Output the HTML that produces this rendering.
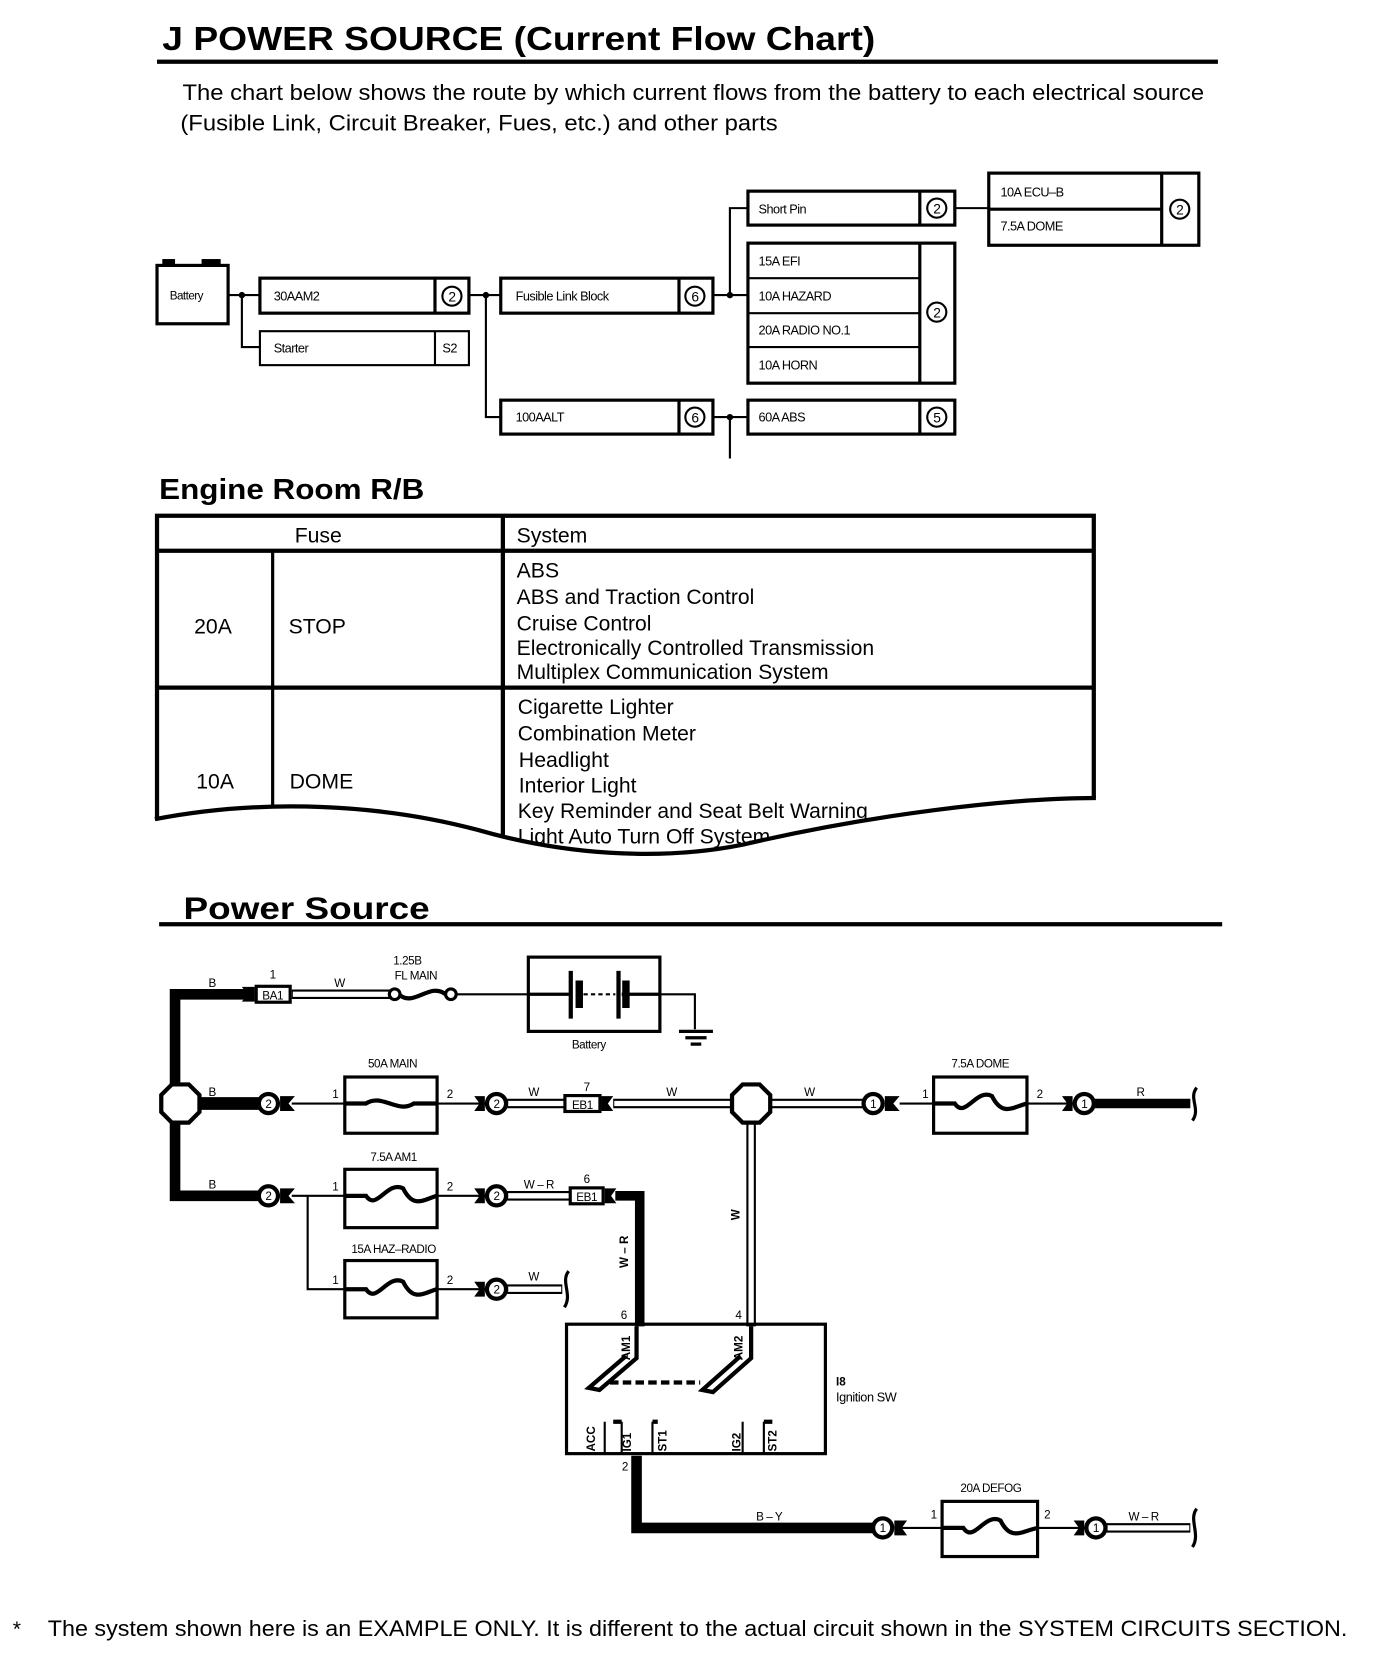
<!DOCTYPE html>
<html><head><meta charset="utf-8">
<style>
html,body{margin:0;padding:0;background:#fff;}
svg{display:block;}
text{font-family:"Liberation Sans",Arial,sans-serif;fill:#000;}
</style></head>
<body>
<svg width="1376" height="1666" viewBox="0 0 1297 1570" xmlns="http://www.w3.org/2000/svg">
<rect width="1297" height="1570" fill="#fff"/>
<!-- Title -->
<text x="153" y="47" font-size="31" font-weight="bold" textLength="672" lengthAdjust="spacingAndGlyphs">J POWER SOURCE (Current Flow Chart)</text>
<rect x="148" y="56" width="1000" height="4" fill="#000"/>
<text x="172" y="94" font-size="21" textLength="963" lengthAdjust="spacingAndGlyphs">The chart below shows the route by which current flows from the battery to each electrical source</text>
<text x="170" y="123" font-size="21" textLength="563" lengthAdjust="spacingAndGlyphs">(Fusible Link, Circuit Breaker, Fues, etc.) and other parts</text>

<!-- Flow chart -->
<g fill="none" stroke="#000">
 <rect x="148" y="250" width="67" height="55" stroke-width="3"/>
 <rect x="153" y="244" width="12" height="6" fill="#000" stroke="none"/>
 <rect x="190" y="244" width="18" height="6" fill="#000" stroke="none"/>
 <path d="M215 278H245M228 278V327H245M442 278H472M458 278V393H472M672 278H705M688 278V196H705M900 196H932M672 393H705M688 393V432" stroke-width="2"/>
 <rect x="245" y="262" width="197" height="33" stroke-width="3"/>
 <line x1="410" y1="262" x2="410" y2="295" stroke-width="3"/>
 <rect x="245" y="312" width="197" height="32" stroke-width="2"/>
 <line x1="410" y1="312" x2="410" y2="344" stroke-width="2"/>
 <rect x="472" y="262" width="200" height="33" stroke-width="3"/>
 <line x1="640" y1="262" x2="640" y2="295" stroke-width="3"/>
 <rect x="472" y="377" width="200" height="32" stroke-width="3"/>
 <line x1="640" y1="377" x2="640" y2="409" stroke-width="3"/>
 <rect x="705" y="180" width="195" height="32" stroke-width="3"/>
 <line x1="867" y1="180" x2="867" y2="212" stroke-width="3"/>
 <rect x="932" y="163" width="198" height="68" stroke-width="3"/>
 <line x1="1095" y1="163" x2="1095" y2="231" stroke-width="3"/>
 <line x1="932" y1="197" x2="1095" y2="197" stroke-width="3"/>
 <rect x="705" y="229" width="195" height="132" stroke-width="3"/>
 <line x1="867" y1="229" x2="867" y2="361" stroke-width="3"/>
 <path d="M705 262H867M705 295H867M705 327H867" stroke-width="2"/>
 <rect x="705" y="377" width="195" height="32" stroke-width="3"/>
 <line x1="867" y1="377" x2="867" y2="409" stroke-width="3"/>
 <g stroke-width="2">
  <circle cx="426" cy="279" r="9"/><circle cx="655" cy="279" r="9"/><circle cx="655" cy="393" r="9"/>
  <circle cx="883" cy="196" r="9"/><circle cx="1112" cy="197" r="9"/><circle cx="883" cy="294" r="9"/><circle cx="883" cy="393" r="9"/>
 </g>
</g>
<g fill="#000"><circle cx="228" cy="278" r="3"/><circle cx="458" cy="278" r="3"/><circle cx="688" cy="278" r="3"/><circle cx="688" cy="393" r="3"/></g>
<g font-size="12" letter-spacing="-0.5">
 <text x="160" y="282" font-size="11">Battery</text>
 <text x="258" y="283">30AAM2</text>
 <text x="258" y="332">Starter</text>
 <text x="417" y="332">S2</text>
 <text x="486" y="283">Fusible Link Block</text>
 <text x="486" y="397">100AALT</text>
 <text x="715" y="201">Short Pin</text>
 <text x="943" y="185">10A ECU–B</text>
 <text x="943" y="217">7.5A DOME</text>
 <text x="715" y="250">15A EFI</text>
 <text x="715" y="283">10A HAZARD</text>
 <text x="715" y="315">20A RADIO NO.1</text>
 <text x="715" y="348">10A HORN</text>
 <text x="715" y="397">60A ABS</text>
 <g text-anchor="middle" font-size="13">
  <text x="426" y="284">2</text><text x="655" y="284">6</text><text x="655" y="398">6</text>
  <text x="883" y="201">2</text><text x="1112" y="202">2</text><text x="883" y="299">2</text><text x="883" y="398">5</text>
 </g>
</g>

<!-- Engine Room R/B -->
<text x="150" y="470" font-size="27" font-weight="bold" textLength="250" lengthAdjust="spacingAndGlyphs">Engine Room R/B</text>
<g fill="none" stroke="#000">
 <path d="M148 772V486H1031V752" stroke-width="4"/>
 <line x1="148" y1="519" x2="1031" y2="519" stroke-width="4"/>
 <line x1="148" y1="648" x2="1031" y2="648" stroke-width="4"/>
 <line x1="474" y1="486" x2="474" y2="830" stroke-width="4"/>
 <line x1="257" y1="519" x2="257" y2="770" stroke-width="3"/>
</g>
<g font-size="20" lengthAdjust="spacingAndGlyphs">
 <text x="300" y="511" text-anchor="middle">Fuse</text>
 <text x="487" y="511">System</text>
 <text x="183" y="597">20A</text><text x="272" y="597">STOP</text>
 <text x="487" y="544">ABS</text>
 <text x="487" y="569" textLength="224" lengthAdjust="spacingAndGlyphs">ABS and Traction Control</text>
 <text x="487" y="594" textLength="127" lengthAdjust="spacingAndGlyphs">Cruise Control</text>
 <text x="487" y="617" textLength="337" lengthAdjust="spacingAndGlyphs">Electronically Controlled Transmission</text>
 <text x="487" y="640" textLength="294" lengthAdjust="spacingAndGlyphs">Multiplex Communication System</text>
 <text x="185" y="743">10A</text><text x="273" y="743">DOME</text>
 <text x="488" y="673" textLength="147" lengthAdjust="spacingAndGlyphs">Cigarette Lighter</text>
 <text x="488" y="698" textLength="168" lengthAdjust="spacingAndGlyphs">Combination Meter</text>
 <text x="489" y="723" textLength="85" lengthAdjust="spacingAndGlyphs">Headlight</text>
 <text x="489" y="747" textLength="111" lengthAdjust="spacingAndGlyphs">Interior Light</text>
 <text x="488" y="771" textLength="330" lengthAdjust="spacingAndGlyphs">Key Reminder and Seat Belt Warning</text>
 <text x="488" y="795" textLength="238" lengthAdjust="spacingAndGlyphs">Light Auto Turn Off System</text>
 <text x="488" y="818" textLength="290" lengthAdjust="spacingAndGlyphs">Theft Deterrent and Door Lock</text>
</g>
<path d="M146 772C250 752 360 758 450 782C530 805 620 812 700 796C820 768 950 752 1033 752V840H146Z" fill="#fff"/>
<path d="M146 772C250 752 360 758 450 782C530 805 620 812 700 796C820 768 950 752 1033 752" fill="none" stroke="#000" stroke-width="4"/>

<!-- Power Source -->
<text x="173" y="866" font-size="30" font-weight="bold" textLength="232" lengthAdjust="spacingAndGlyphs">Power Source</text>
<rect x="150" y="869" width="1002" height="4" fill="#000"/>

<g fill="none" stroke="#000">
 <path d="M240 937H165V1127H250" stroke-width="10"/>
 <path d="M170 1040H250" stroke-width="12"/>
 <path d="M580 1127H603V1250" stroke-width="9"/>
 <path d="M600 1372V1440H825" stroke-width="10"/>
 <path d="M1030 1040H1122" stroke-width="9"/>
 <path d="M275 1040H325M412 1040H458M275 1127H325M412 1127H458M290 1127V1215H325M412 1215H458M848 1040H880M968 1040H1012M848 1440H888M978 1440H1023M428 937H498M622 937H655V970" stroke-width="2"/>
 <g stroke-width="9">
  <path d="M275 937H370M478 1040H540M578 1040H690M726 1040H815M708 1058V1250M478 1127H540M478 1215H530M1043 1440H1122"/>
 </g>
 <g stroke="#fff" stroke-width="5">
  <path d="M276 937H369M479 1040H539M579 1040H689M727 1040H814M708 1059V1249M479 1127H539M479 1215H529M1044 1440H1121"/>
 </g>
 <polygon points="162,1022 178,1022 188,1032 188,1048 178,1058 162,1058 152,1048 152,1032" fill="#fff" stroke-width="4"/>
 <polygon points="700,1022 716,1022 726,1032 726,1048 716,1058 700,1058 690,1048 690,1032" fill="#fff" stroke-width="4"/>
 <g stroke-width="3">
  <rect x="325" y="1015" width="87" height="53"/>
  <rect x="325" y="1102" width="87" height="55"/>
  <rect x="325" y="1188" width="87" height="54"/>
  <rect x="880" y="1015" width="88" height="53"/>
  <rect x="888" y="1415" width="90" height="52"/>
  <rect x="498" y="902" width="124" height="70"/>
  <rect x="534" y="1248" width="244" height="122"/>
 </g>
 <g stroke-width="4">
  <path d="M325 1040H345C360 1030 375 1050 390 1040H412"/>
  <path d="M325 1127H345C355 1142 365 1112 380 1120C390 1140 400 1130 412 1127"/>
  <path d="M325 1215H345C355 1230 365 1200 380 1208C390 1228 400 1218 412 1215"/>
  <path d="M880 1040H900C910 1055 920 1025 935 1033C945 1053 955 1043 968 1040"/>
  <path d="M888 1440H908C918 1455 928 1425 943 1433C953 1453 963 1443 978 1440"/>
  <path d="M376 937C390 950 405 925 420 937"/>
 </g>
 <circle cx="372" cy="937" r="5" stroke-width="3" fill="#fff"/>
 <circle cx="425" cy="937" r="5" stroke-width="3" fill="#fff"/>
 <path d="M498 937H538M586 937H622" stroke-width="3"/>
 <path d="M538 915V960M583 915V960" stroke-width="4"/>
 <path d="M546 924V950M590 924V950" stroke-width="7"/>
 <path d="M550 937H580" stroke-width="2" stroke-dasharray="4 3"/>
 <path d="M640 972H672M646 978H666M651 984H661" stroke-width="3"/>
 <path d="M1128 1025C1120 1035 1132 1045 1124 1056M536 1198C528 1208 540 1220 532 1232M1128 1422C1120 1432 1132 1446 1124 1458" stroke-width="3"/>
 <path d="M600 1250V1280L565 1310L555 1308L590 1278" stroke-width="4"/>
 <path d="M708 1250V1280L672 1312L662 1310L698 1278" stroke-width="4"/>
 <path d="M575 1303H660" stroke-width="4" stroke-dasharray="8 4"/>
 <path d="M570 1370V1340M586 1340V1370M615 1340V1370M700 1370V1340M720 1340V1370" stroke-width="2"/>
 <path d="M586 1340H578M615 1340H620M720 1340H728" stroke-width="4"/>
</g>
<g fill="#000">
 <rect x="240" y="928" width="35" height="18"/>
 <rect x="531" y="1031" width="36" height="18"/>
 <rect x="536" y="1118" width="34" height="18"/>
 <circle cx="253" cy="1040" r="11"/><circle cx="253" cy="1127" r="11"/>
 <circle cx="468" cy="1040" r="11"/><circle cx="468" cy="1127" r="11"/><circle cx="468" cy="1215" r="11"/>
 <circle cx="823" cy="1040" r="11"/><circle cx="1022" cy="1040" r="11"/>
 <circle cx="832" cy="1440" r="11"/><circle cx="1033" cy="1440" r="11"/>
 <polygon points="264,1033 278,1033 272,1040 278,1047 264,1047"/>
 <polygon points="264,1120 278,1120 272,1127 278,1134 264,1134"/>
 <polygon points="457,1033 447,1033 452,1040 447,1047 457,1047"/>
 <polygon points="457,1120 447,1120 452,1127 447,1134 457,1134"/>
 <polygon points="457,1208 447,1208 452,1215 447,1222 457,1222"/>
 <polygon points="834,1033 848,1033 842,1040 848,1047 834,1047"/>
 <polygon points="1011,1033 1001,1033 1006,1040 1001,1047 1011,1047"/>
 <polygon points="843,1433 855,1433 850,1440 855,1447 843,1447"/>
 <polygon points="1022,1433 1012,1433 1017,1440 1012,1447 1022,1447"/>
 <polygon points="228,930 240,930 240,944 228,944 233,937"/>
 <polygon points="567,1033 578,1033 573,1040 578,1047 567,1047"/>
 <polygon points="570,1120 581,1120 576,1127 581,1134 570,1134"/>
</g>
<g fill="#fff"><circle cx="253" cy="1040" r="7"/><circle cx="253" cy="1127" r="7"/>
 <circle cx="468" cy="1040" r="7"/><circle cx="468" cy="1127" r="7"/><circle cx="468" cy="1215" r="7"/>
 <circle cx="823" cy="1040" r="7"/><circle cx="1022" cy="1040" r="7"/><circle cx="832" cy="1440" r="7"/><circle cx="1033" cy="1440" r="7"/>
 <rect x="243" y="931" width="29" height="12"/><rect x="534" y="1034" width="30" height="12"/><rect x="539" y="1121" width="28" height="12"/>
</g>
<g font-size="11" text-anchor="middle" letter-spacing="-0.4">
 <text x="253" y="1044">2</text><text x="253" y="1131">2</text><text x="468" y="1044">2</text><text x="468" y="1131">2</text><text x="468" y="1219">2</text>
 <text x="823" y="1044">1</text><text x="1022" y="1044">1</text><text x="832" y="1444">1</text><text x="1033" y="1444">1</text>
 <text x="257" y="942">BA1</text><text x="549" y="1045">EB1</text><text x="553" y="1132">EB1</text>
 <text x="257" y="922">1</text><text x="553" y="1028">7</text><text x="553" y="1115">6</text>
 <text x="200" y="930">B</text><text x="200" y="1033">B</text><text x="200" y="1120">B</text>
 <text x="320" y="930">W</text><text x="503" y="1033">W</text><text x="633" y="1033">W</text><text x="763" y="1033">W</text>
 <text x="1075" y="1033">R</text><text x="508" y="1120">W – R</text><text x="503" y="1207">W</text>
 <text x="725" y="1433">B – Y</text><text x="1078" y="1433">W – R</text>
 <text x="384" y="909">1.25B</text><text x="392" y="923">FL MAIN</text>
 <text x="370" y="1006">50A MAIN</text><text x="371" y="1094">7.5A AM1</text><text x="371" y="1181">15A HAZ–RADIO</text>
 <text x="924" y="1006">7.5A DOME</text><text x="934" y="1406">20A DEFOG</text>
 <text x="555" y="988">Battery</text>
 <text x="316" y="1035">1</text><text x="424" y="1035">2</text><text x="316" y="1122">1</text><text x="424" y="1122">2</text>
 <text x="316" y="1210">1</text><text x="424" y="1210">2</text><text x="872" y="1035">1</text><text x="980" y="1035">2</text>
 <text x="880" y="1431">1</text><text x="987" y="1431">2</text>
 <text x="588" y="1243">6</text><text x="696" y="1243">4</text><text x="589" y="1386">2</text>
</g>
<g font-size="11" font-weight="bold">
 <text transform="translate(592,1195) rotate(-90)">W – R</text>
 <text transform="translate(697,1150) rotate(-90)">W</text>
 <text transform="translate(594,1282) rotate(-90)">AM1</text>
 <text transform="translate(700,1282) rotate(-90)">AM2</text>
 <text transform="translate(561,1368) rotate(-90)">ACC</text>
 <text transform="translate(595,1368) rotate(-90)">IG1</text>
 <text transform="translate(628,1368) rotate(-90)">ST1</text>
 <text transform="translate(698,1368) rotate(-90)">IG2</text>
 <text transform="translate(732,1368) rotate(-90)">ST2</text>
</g>
<text x="788" y="1306" font-size="11" font-weight="bold">I8</text>
<text x="788" y="1321" font-size="12" letter-spacing="-0.4">Ignition SW</text>

<text x="12" y="1542" font-size="20">*</text>
<text x="45" y="1542" font-size="21" textLength="1225" lengthAdjust="spacingAndGlyphs">The system shown here is an EXAMPLE ONLY. It is different to the actual circuit shown in the SYSTEM CIRCUITS SECTION.</text>
</svg>
</body></html>
